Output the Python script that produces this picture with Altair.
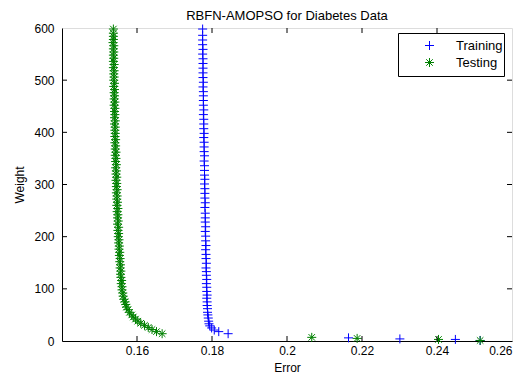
import altair as alt
import pandas as pd

# ---------------- data ----------------
train_weight = [1, 3, 4, 6, 14, 18, 21, 25, 29, 33, 38, 44, 50, 55, 62, 68, 75, 82, 88, 95,
                103, 110, 118, 126, 133, 140, 149, 158, 166, 175, 183, 192, 201, 210, 219,
                228, 236, 245, 256, 265, 274, 283, 292, 301, 310, 318, 327, 336, 345, 355,
                363, 372, 381, 390, 398, 407, 416, 425, 434, 443, 452, 461, 470, 478, 487,
                496, 505, 514, 523, 532, 541, 550, 559, 568, 577, 586, 598]
train_error = [0.2515, 0.2449, 0.2301, 0.2164, 0.1843, 0.1818, 0.1806, 0.1799, 0.1794, 0.1792,
               0.1791, 0.1790, 0.1789, 0.1788, 0.1788, 0.1787, 0.1787, 0.1786, 0.1787, 0.1786,
               0.1786, 0.1785, 0.1786, 0.1785, 0.1785, 0.1784, 0.1785, 0.1784, 0.1784, 0.1783,
               0.1784, 0.1783, 0.1783, 0.1782, 0.1783, 0.1782, 0.1782, 0.1782, 0.1781, 0.1782,
               0.1781, 0.1781, 0.1781, 0.1780, 0.1781, 0.1780, 0.1780, 0.1780, 0.1779, 0.1780,
               0.1779, 0.1779, 0.1779, 0.1778, 0.1779, 0.1778, 0.1778, 0.1778, 0.1777, 0.1778,
               0.1777, 0.1777, 0.1777, 0.1777, 0.1776, 0.1777, 0.1776, 0.1776, 0.1776, 0.1776,
               0.1776, 0.1775, 0.1776, 0.1775, 0.1775, 0.1775, 0.1775]

test_weight = [1, 3, 5, 7, 14, 18, 22, 26, 30, 34, 38, 42, 46, 50, 55, 60, 65, 70, 75, 80,
               86, 92, 98, 104, 110, 116, 122, 128, 134, 140, 146, 152, 158, 164, 170, 176,
               182, 188, 194, 200, 206, 212, 218, 224, 230, 236, 242, 248, 254, 260, 266,
               272, 278, 284, 290, 296, 302, 308, 314, 320, 326, 332, 338, 344, 350, 356,
               362, 368, 374, 380, 386, 392, 398, 404, 410, 416, 422, 428, 434, 440, 446,
               452, 458, 464, 470, 476, 482, 488, 494, 500, 506, 512, 518, 524, 530, 536,
               542, 548, 554, 560, 566, 572, 578, 584, 590, 598]
test_error = [0.2515, 0.2404, 0.2187, 0.2066, 0.1667, 0.1652, 0.1640, 0.1630, 0.1620, 0.1610,
              0.1602, 0.1596, 0.1590, 0.1586, 0.1580, 0.1576, 0.1572, 0.1570, 0.1568, 0.1565,
              0.1563, 0.1562, 0.1560, 0.1560, 0.1558, 0.1559, 0.1557, 0.1556, 0.1557, 0.1555,
              0.1556, 0.1554, 0.1555, 0.1553, 0.1554, 0.1552, 0.1553, 0.1551, 0.1552, 0.1550,
              0.1551, 0.1549, 0.1551, 0.1548, 0.1550, 0.1548, 0.1549, 0.1547, 0.1549, 0.1546,
              0.1548, 0.1546, 0.1547, 0.1545, 0.1547, 0.1545, 0.1546, 0.1544, 0.1546, 0.1544,
              0.1545, 0.1543, 0.1545, 0.1543, 0.1544, 0.1542, 0.1544, 0.1542, 0.1543, 0.1541,
              0.1543, 0.1541, 0.1542, 0.1541, 0.1542, 0.1540, 0.1542, 0.1540, 0.1541, 0.1540,
              0.1541, 0.1539, 0.1541, 0.1539, 0.1540, 0.1539, 0.1540, 0.1538, 0.1540, 0.1538,
              0.1539, 0.1538, 0.1539, 0.1537, 0.1539, 0.1537, 0.1538, 0.1537, 0.1538, 0.1537,
              0.1538, 0.1536, 0.1537, 0.1537, 0.1537, 0.1537]

series_names = ["Training", "Testing"]
series_colors = ["#0000ff", "#008000"]

x_label_values = [0.16, 0.18, 0.2, 0.22, 0.24, 0.26]
y_label_values = [0, 100, 200, 300, 400, 500, 600]
x_tick_values = [0.16, 0.18, 0.2, 0.22, 0.24]
y_tick_values = [100, 200, 300, 400, 500]

# ---------------- build tables ----------------
train_df = pd.DataFrame({"error": train_error, "weight": train_weight, "series": series_names[0]})
test_df = pd.DataFrame({"error": test_error, "weight": test_weight, "series": series_names[1]})
xt = pd.DataFrame({"t": x_tick_values})
yt = pd.DataFrame({"t": y_tick_values})

W, H = 450, 313
FONT = "Liberation Sans"
PLUS = "M-1,0L1,0M0,-1L0,1"
STAR = "M-1,0L1,0M0,-1L0,1M-0.72,-0.72L0.72,0.72M-0.72,0.72L0.72,-0.72"

xs = alt.Scale(domain=[0.14, 0.26], nice=False, zero=False)
ys = alt.Scale(domain=[0, 600], nice=False, zero=False)

x_axis = alt.Axis(values=x_label_values, format="~g", tickSize=0, labelPadding=4,
                  grid=False, domainColor="black", labelColor="black",
                  labelFontSize=12, labelFont=FONT, titleFont=FONT, titleFontSize=12,
                  titleFontWeight="normal", titleColor="black",
                  titleY=26, titleBaseline="middle")
y_axis = alt.Axis(values=y_label_values, tickSize=0, labelPadding=8,
                  grid=False, domainColor="black", labelColor="black",
                  labelFontSize=12, labelFont=FONT, titleFont=FONT, titleFontSize=12,
                  titleFontWeight="normal", titleColor="black", titlePadding=7)

common_leg = dict(orient="none", legendX=336, legendY=5, padding=6,
                  symbolSize=81, symbolStrokeWidth=1, symbolFillColor="transparent",
                  labelFont=FONT, labelFontSize=13, labelColor="black",
                  symbolOffset=19, labelOffset=20)

# Training legend: frameless, sits in the first row of the framed box
leg_train = alt.Legend(title=None, symbolType=PLUS, symbolStrokeColor=series_colors[0],
                       zindex=2, **common_leg)
# Testing legend: owns the frame; its blank title reserves the first row
leg_test = alt.Legend(title=" " * 27, titleFontSize=13, titlePadding=4, titleFont=FONT,
                      strokeColor="black", fillColor="white", symbolType=STAR,
                      symbolStrokeColor=series_colors[1], zindex=1, **common_leg)

ex = alt.X("error:Q", scale=xs, axis=x_axis, title="Error")
wy = alt.Y("weight:Q", scale=ys, axis=y_axis, title="Weight")

train_pts = alt.Chart(train_df).mark_point(shape=PLUS, filled=False, strokeWidth=1,
                                           color=series_colors[0],
                                           size=81, opacity=1).encode(
    x=ex, y=wy,
    stroke=alt.Stroke("series:N", scale=alt.Scale(domain=[series_names[0]],
                                                  range=[series_colors[0]]),
                      legend=leg_train),
)
test_pts = alt.Chart(test_df).mark_point(shape=STAR, filled=False, strokeWidth=1,
                                         color=series_colors[1],
                                         size=81, opacity=1).encode(
    x=ex, y=wy,
    stroke=alt.Stroke("series:N", scale=alt.Scale(domain=[series_names[1]],
                                                  range=[series_colors[1]]),
                      legend=leg_test),
)

bx = alt.X("t:Q", scale=xs, axis=x_axis, title="Error")
by = alt.Y("t:Q", scale=ys, axis=y_axis, title="Weight")

tick_bottom = alt.Chart(xt).mark_rule(color="black", strokeWidth=1).encode(
    x=bx, y=alt.value(H), y2=alt.value(H - 5))
tick_top = alt.Chart(xt).mark_rule(color="black", strokeWidth=1).encode(
    x=bx, y=alt.value(0), y2=alt.value(5))
tick_left = alt.Chart(yt).mark_rule(color="black", strokeWidth=1).encode(
    y=by, x=alt.value(0), x2=alt.value(5))
tick_right = alt.Chart(yt).mark_rule(color="black", strokeWidth=1).encode(
    y=by, x=alt.value(W), x2=alt.value(W - 5))

chart = alt.layer(train_pts, test_pts, tick_bottom, tick_top, tick_left, tick_right).resolve_scale(
    stroke="independent"
).resolve_legend(stroke="independent").properties(
    width=W, height=H,
    title=alt.Title("RBFN-AMOPSO for Diabetes Data", font=FONT, fontSize=13,
                    fontWeight="normal", color="black", offset=-1),
    autosize=alt.AutoSizeParams(type="none"),
    padding={"left": 54, "top": 20, "right": 516 - 54 - W, "bottom": 32},
).configure_view(stroke="black", strokeWidth=1).configure(background="white")

chart.save("out.html", embed_options={"renderer": "svg", "actions": False})
